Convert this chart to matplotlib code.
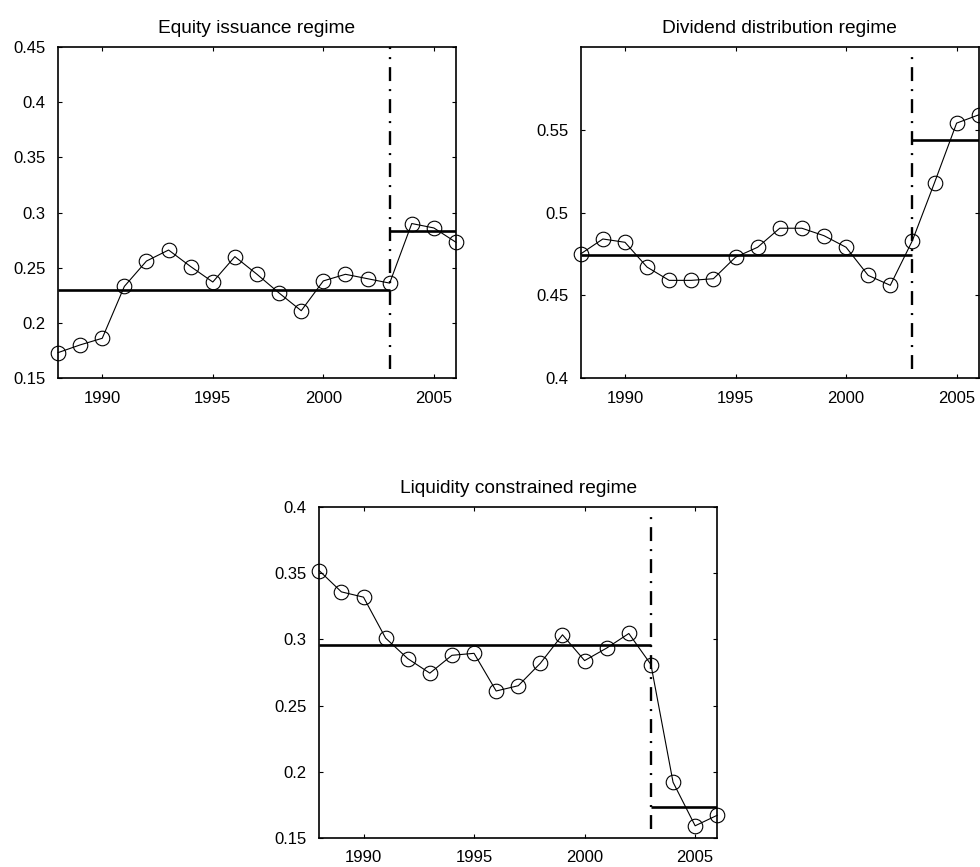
import matplotlib
matplotlib.use("Agg")
import matplotlib.pyplot as plt
import numpy as np

plt.rcParams['font.family'] = ['Liberation Sans', 'DejaVu Sans']

years = np.arange(1988, 2007)
break_year = 2003

# values
equity = [0.173, 0.180, 0.186, 0.233, 0.256, 0.266, 0.251, 0.237, 0.260, 0.244,
          0.227, 0.211, 0.238, 0.244, 0.240, 0.236, 0.290, 0.286, 0.273]
dividend = [0.475, 0.484, 0.482, 0.467, 0.459, 0.459, 0.460, 0.473, 0.479, 0.4905,
            0.4905, 0.486, 0.479, 0.462, 0.456, 0.483, 0.518, 0.554, 0.559]
liquidity = [0.352, 0.336, 0.332, 0.301, 0.2855, 0.2745, 0.288, 0.2895, 0.261, 0.265,
             0.282, 0.3035, 0.284, 0.2935, 0.3045, 0.281, 0.192, 0.159, 0.167]

# regime means (before / after the break)
equity_means = [0.230, 0.2835]
dividend_means = [0.4741, 0.5438]
liquidity_means = [0.2956, 0.1732]

titles = ['Equity issuance regime', 'Dividend distribution regime',
          'Liquidity constrained regime']
ylims = [(0.15, 0.45), (0.4, 0.6), (0.15, 0.4)]
yticks = [[0.15, 0.2, 0.25, 0.3, 0.35, 0.4, 0.45],
          [0.4, 0.45, 0.5, 0.55],
          [0.15, 0.2, 0.25, 0.3, 0.35, 0.4]]
yticklabels = [['0.15', '0.2', '0.25', '0.3', '0.35', '0.4', '0.45'],
               ['0.4', '0.45', '0.5', '0.55'],
               ['0.15', '0.2', '0.25', '0.3', '0.35', '0.4']]
# vertical span of the dash-dot break line
vspans = [(0.158, 0.45), (0.4057, 0.598), (0.1563, 0.398)]

fig = plt.figure(figsize=(9.8, 8.67), dpi=100)
positions = [[0.0592, 0.5640, 0.4061, 0.3818],
             [0.5926, 0.5640, 0.4061, 0.3818],
             [0.3258, 0.0338, 0.4061, 0.3811]]
series = [equity, dividend, liquidity]
means = [equity_means, dividend_means, liquidity_means]

for i in range(3):
    ax = fig.add_axes(positions[i])
    ax.plot(years, series[i], '-', color='black', lw=0.8,
            marker='o', ms=10.5, mfc='none', mec='black', mew=0.8, clip_on=False)
    ax.plot([years[0], break_year], [means[i][0], means[i][0]], color='black', lw=1.9,
            solid_capstyle='butt')
    ax.plot([break_year, years[-1]], [means[i][1], means[i][1]], color='black', lw=1.9,
            solid_capstyle='butt')
    ax.plot([break_year, break_year], vspans[i], color='black', lw=1.7,
            linestyle=(0, (5.9, 3.4, 0.85, 3.4)))
    ax.set_xlim(1988, 2006)
    ax.set_ylim(*ylims[i])
    ax.set_xticks([1990, 1995, 2000, 2005])
    ax.set_yticks(yticks[i])
    ax.set_yticklabels(yticklabels[i])
    ax.tick_params(direction='in', length=3, width=0.8, top=True, right=True,
                   labelsize=12, pad=9)
    for s in ax.spines.values():
        s.set_linewidth(1.2)
    ax.set_title(titles[i], fontsize=13.8, pad=10.4)

fig.savefig('out.png', dpi=100)
